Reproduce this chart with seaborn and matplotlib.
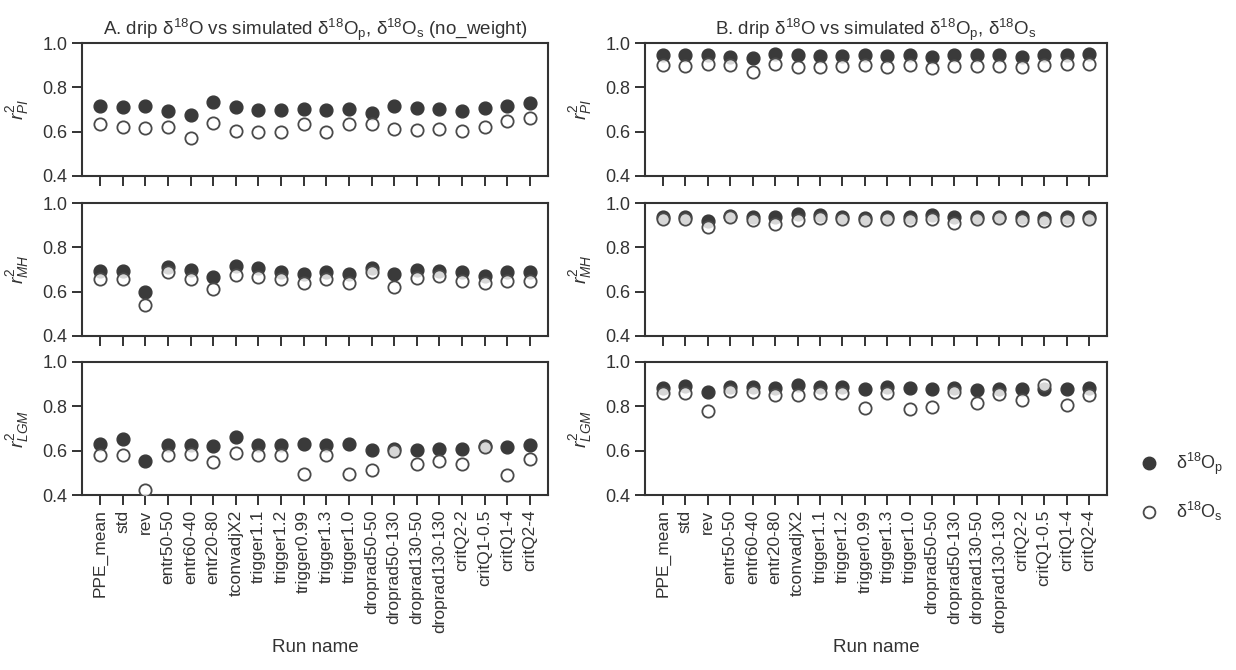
import numpy as np
import pandas as pd
import matplotlib
matplotlib.use("Agg")
import matplotlib.pyplot as plt
from matplotlib.lines import Line2D
import seaborn as sns

runs = ["PPE_mean", "std", "rev", "entr50-50", "entr60-40", "entr20-80", "tconvadjX2",
        "trigger1.1", "trigger1.2", "trigger0.99", "trigger1.3", "trigger1.0",
        "droprad50-50", "droprad50-130", "droprad130-50", "droprad130-130",
        "critQ2-2", "critQ1-0.5", "critQ1-4", "critQ2-4"]

# Panel A (no_weight): r^2 for precipitation (p) and soil water (s)
a_pi_p = [0.714, 0.711, 0.714, 0.692, 0.677, 0.736, 0.711, 0.700, 0.700, 0.702,
          0.700, 0.704, 0.686, 0.714, 0.707, 0.704, 0.692, 0.707, 0.714, 0.729]
a_pi_s = [0.633, 0.621, 0.616, 0.622, 0.573, 0.641, 0.603, 0.597, 0.597, 0.633,
          0.600, 0.633, 0.633, 0.610, 0.606, 0.610, 0.603, 0.622, 0.650, 0.662]
a_mh_p = [0.694, 0.694, 0.600, 0.710, 0.700, 0.667, 0.716, 0.709, 0.688, 0.680,
          0.688, 0.680, 0.706, 0.680, 0.700, 0.694, 0.690, 0.671, 0.688, 0.688]
a_mh_s = [0.656, 0.656, 0.539, 0.690, 0.655, 0.610, 0.676, 0.667, 0.655, 0.641,
          0.655, 0.641, 0.688, 0.619, 0.661, 0.671, 0.649, 0.640, 0.646, 0.646]
a_lgm_p = [0.628, 0.652, 0.554, 0.624, 0.627, 0.621, 0.661, 0.627, 0.627, 0.628,
           0.627, 0.628, 0.604, 0.609, 0.604, 0.609, 0.609, 0.621, 0.618, 0.627]
a_lgm_s = [0.579, 0.579, 0.422, 0.581, 0.585, 0.548, 0.590, 0.579, 0.579, 0.494,
           0.579, 0.494, 0.514, 0.598, 0.539, 0.555, 0.541, 0.618, 0.488, 0.564]

# Panel B
b_pi_p = [0.945, 0.945, 0.945, 0.937, 0.933, 0.952, 0.945, 0.940, 0.940, 0.945,
          0.940, 0.945, 0.937, 0.948, 0.945, 0.945, 0.937, 0.945, 0.945, 0.949]
b_pi_s = [0.900, 0.897, 0.906, 0.900, 0.870, 0.906, 0.891, 0.891, 0.895, 0.900,
          0.891, 0.900, 0.888, 0.895, 0.897, 0.895, 0.892, 0.900, 0.906, 0.906]
b_mh_p = [0.939, 0.938, 0.920, 0.942, 0.939, 0.936, 0.950, 0.944, 0.936, 0.933,
          0.936, 0.936, 0.944, 0.936, 0.939, 0.936, 0.936, 0.933, 0.939, 0.936]
b_mh_s = [0.929, 0.930, 0.892, 0.935, 0.924, 0.905, 0.924, 0.932, 0.927, 0.924,
          0.927, 0.924, 0.927, 0.912, 0.927, 0.932, 0.924, 0.921, 0.924, 0.927]
b_lgm_p = [0.883, 0.890, 0.863, 0.886, 0.886, 0.881, 0.896, 0.886, 0.886, 0.880,
           0.886, 0.881, 0.878, 0.883, 0.872, 0.878, 0.878, 0.878, 0.880, 0.883]
b_lgm_s = [0.860, 0.860, 0.777, 0.869, 0.865, 0.851, 0.853, 0.860, 0.860, 0.791,
           0.860, 0.789, 0.798, 0.866, 0.815, 0.857, 0.829, 0.895, 0.805, 0.850]

ylabels = [r"$\mathit{r}^2_{\mathit{PI}}$", r"$\mathit{r}^2_{\mathit{MH}}$",
           r"$\mathit{r}^2_{\mathit{LGM}}$"]
titles = [r"A. drip δ$^{18}$O vs simulated δ$^{18}$O$_p$, δ$^{18}$O$_s$ (no_weight)",
          r"B. drip δ$^{18}$O vs simulated δ$^{18}$O$_p$, δ$^{18}$O$_s$"]
legend_labels = [r"δ$^{18}$O$_p$", r"δ$^{18}$O$_s$"]
yticks = [0.4, 0.6, 0.8, 1.0]

panels = [
    [(a_pi_p, a_pi_s), (a_mh_p, a_mh_s), (a_lgm_p, a_lgm_s)],
    [(b_pi_p, b_pi_s), (b_mh_p, b_mh_s), (b_lgm_p, b_lgm_s)],
]

sns.set_style("ticks")
plt.rcParams["font.family"] = ["Liberation Sans", "DejaVu Sans"]
plt.rcParams["mathtext.fontset"] = "custom"
plt.rcParams["mathtext.rm"] = "Liberation Sans"
plt.rcParams["mathtext.it"] = "Liberation Sans:italic"
plt.rcParams["mathtext.default"] = "regular"

DARK = "#3a3a3a"
EDGE = "#4a4a4a"
SPINE = "#333333"
TXT = "#333333"

fig = plt.figure(figsize=(12.36, 6.70), dpi=100)
W, H = 1236, 670
lefts = [82, 645]
widths = [466, 462]
tops = [43, 203, 362]
ax_h = 133

for c, col in enumerate(panels):
    for r, (vp, vs) in enumerate(col):
        ax = fig.add_axes([lefts[c] / W, 1 - (tops[r] + ax_h) / H, widths[c] / W, ax_h / H])
        dfp = pd.DataFrame({"run": runs, "r2": vp})
        dfs = pd.DataFrame({"run": runs, "r2": vs})
        sns.scatterplot(data=dfp, x="run", y="r2", ax=ax, s=85, color=DARK,
                        edgecolor=DARK, linewidth=1.0, zorder=3)
        sns.scatterplot(data=dfs, x="run", y="r2", ax=ax, s=78,
                        facecolor=(1, 1, 1, 0.8), edgecolor=EDGE, linewidth=1.3, zorder=4)
        ax.set_xlim(-0.8, len(runs) - 0.2)
        ax.set_ylim(0.4, 1.0)
        ax.set_yticks(yticks)
        ax.set_yticklabels([f"{t:.1f}" for t in yticks], fontsize=13, color=TXT)
        for s in ax.spines.values():
            s.set_visible(True)
            s.set_linewidth(1.5)
            s.set_color(SPINE)
        ax.tick_params(axis="both", direction="out", length=7, width=1.4, color=SPINE)
        ax.set_ylabel(ylabels[r], fontsize=14, color=TXT, labelpad=8)
        ax.set_xticks(range(len(runs)))
        if r == 2:
            ax.set_xticklabels(runs, rotation=90, fontsize=12.5, color=TXT)
            ax.set_xlabel("Run name", fontsize=13.5, color=TXT)
        else:
            ax.set_xticklabels([])
            ax.set_xlabel("")
        if r == 0:
            ax.set_title(titles[c], fontsize=13.5, color=TXT, pad=6)

handles = [
    Line2D([], [], linestyle="none", marker="o", markersize=9,
           markerfacecolor=DARK, markeredgecolor=DARK),
    Line2D([], [], linestyle="none", marker="o", markersize=8.5,
           markerfacecolor="white", markeredgecolor=EDGE, markeredgewidth=1.3),
]
fig.legend(handles, legend_labels, loc="center left", bbox_to_anchor=(1122 / W, 1 - 487 / H),
           frameon=False, fontsize=13, labelspacing=1.3, handlelength=1.2,
           handletextpad=0.9, labelcolor=TXT)

fig.savefig("out.png", dpi=100)
